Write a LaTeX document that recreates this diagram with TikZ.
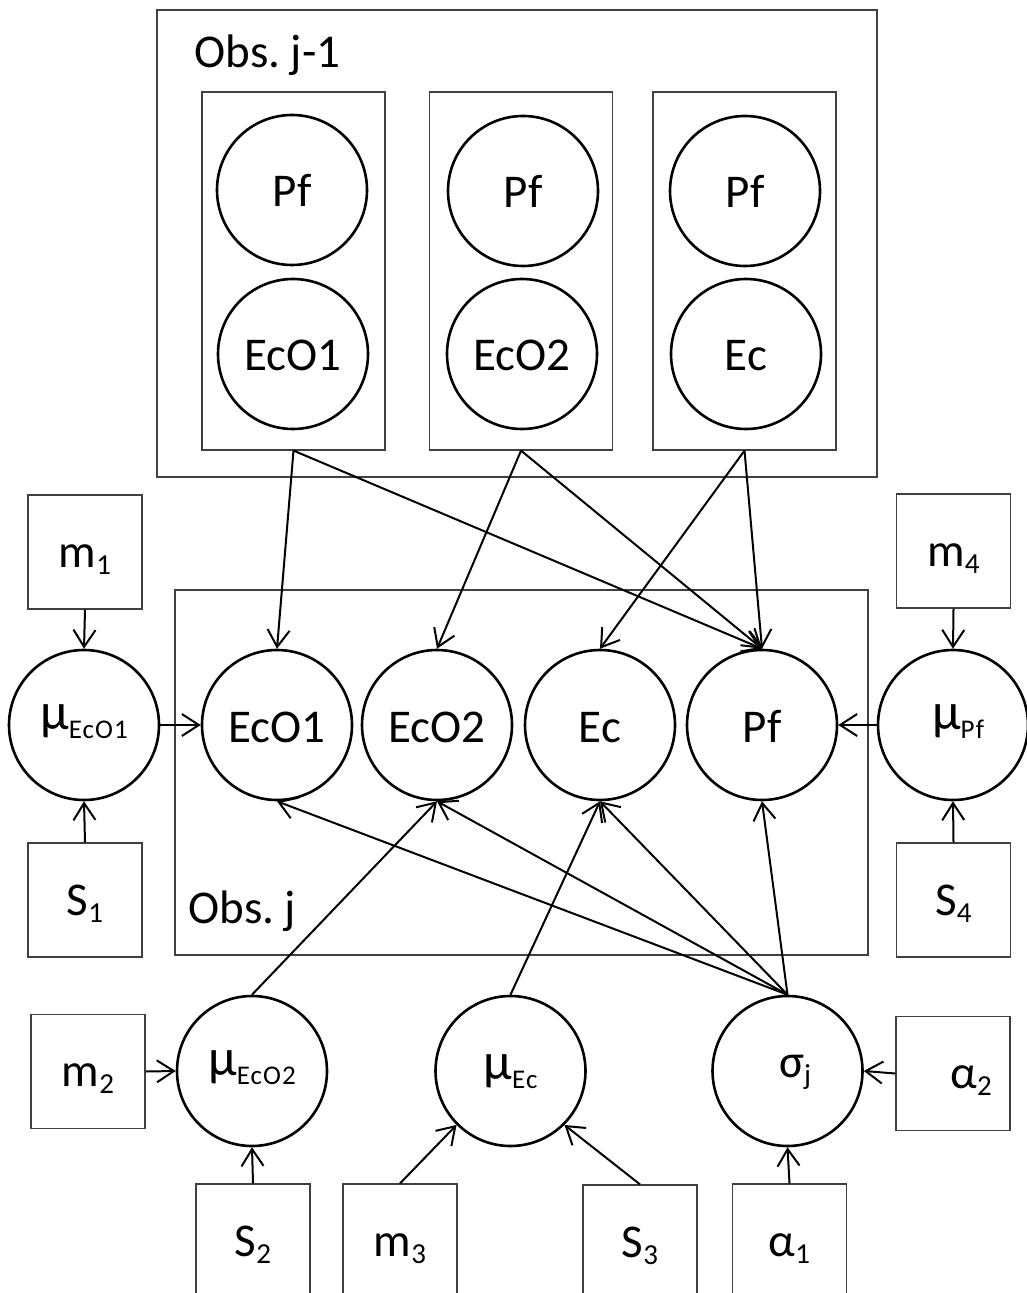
\documentclass[tikz,border=0pt]{standalone}
\usepackage{fontspec}
\setmainfont{Carlito}
\usetikzlibrary{arrows.meta}
\newcommand{\lsub}[1]{\raisebox{-3.5pt}{\fontsize{14.5}{15}\selectfont #1}}
\newcommand{\msub}[1]{\raisebox{-4.5pt}{\fontsize{13.5}{14}\selectfont\addfontfeature{LetterSpace=4}#1}}
\newcommand{\mug}{{\fontsize{26}{28}\selectfont μ}}
\tikzset{
  var/.style={circle, draw, line width=1.3pt, minimum size=75pt, inner sep=0pt, text height=17pt, text depth=0pt},
  hyp/.style={var, text height=9pt, text depth=5pt},
  cst/.style={rectangle, draw=black!75, line width=0.6pt, minimum width=57pt, minimum height=57pt, inner sep=0pt, text height=16pt, text depth=1pt},
  plate/.style={rectangle, draw=black!75, line width=0.6pt, inner sep=0pt},
  arr/.style={-{Straight Barb[length=8.5pt,width=11pt]}, line width=1pt},
  lbl/.style={anchor=base west, inner sep=0pt},
}
\begin{document}
\begin{tikzpicture}[x=0.5pt,y=-0.5pt, font=\fontsize{23.5}{28}\selectfont]
\useasboundingbox (0,0) rectangle (1026,1293);
% previous observation plate
\node[plate, minimum width=360pt, minimum height=233.5pt] (prev) at (517,243.5) {};
\node[lbl] (prevlbl) at (194,68) {Obs.\ j-1};
\node[plate, minimum width=91.5pt, minimum height=179pt] (g1) at (293.5,271) {};
\node[plate, minimum width=91.5pt, minimum height=179pt] (g2) at (521,271) {};
\node[plate, minimum width=91.5pt, minimum height=179pt] (g3) at (744.5,271) {};
\node[var] (pf1) at (292,190) {Pf};
\node[var] (eco1p) at (293,354) {EcO1};
\node[var] (pf2) at (523,191) {Pf};
\node[var] (eco2p) at (522,354) {EcO2};
\node[var] (pf3) at (745,191) {Pf};
\node[var] (ecp) at (746,354) {Ec};
% current observation plate
\node[plate, minimum width=346.5pt, minimum height=182.5pt] (cur) at (521.5,772.5) {};
\node[lbl] (curlbl) at (188,923) {Obs.\ j};
\node[var] (eco1) at (277,725) {EcO1};
\node[var] (eco2) at (437,725) {EcO2};
\node[var] (ec) at (600,725) {Ec};
\node[var] (pf) at (762,725) {Pf};
% hyper nodes
\node[hyp] (mueco1) at (84,725) {\mug\msub{EcO1}};
\node[hyp] (mupf) at (953,725) {\hspace*{5pt}\mug\msub{Pf}};
\node[cst] (m1) at (85,552) {m\lsub{1}};
\node[cst] (s1) at (85,900) {S\lsub{1}};
\node[cst] (m4) at (953.5,551) {m\lsub{4}};
\node[cst] (s4) at (953.5,900) {S\lsub{4}};
\node[hyp] (mueco2) at (252,1071) {\mug\msub{EcO2}};
\node[hyp, text height=13pt, text depth=5pt] (muec) at (510.5,1071) {\mug\msub{Ec}};
\node[hyp, text height=10pt, text depth=4pt] (sigma) at (787.5,1071) {\hspace*{7.5pt}σ\lsub{j}};
\node[cst] (m2) at (88,1071.5) {m\lsub{2}};
\node[cst] (alpha2) at (953,1073.5) {\hspace*{18pt}α\lsub{2}};
\node[cst] (s2) at (253,1241) {S\lsub{2}};
\node[cst] (m3) at (400,1241) {m\lsub{3}};
\node[cst] (s3) at (640,1242) {S\lsub{3}};
\node[cst] (alpha1) at (789.5,1241) {α\lsub{1}};
% edges from previous observation
\draw[arr] (g1.south) -- (eco1.north);
\draw[arr] (g1.south) -- (pf.north);
\draw[arr] (g2.south) -- (eco2.north);
\draw[arr] (g2.south) -- (pf.north);
\draw[arr] (g3.south) -- (ec.north);
\draw[arr] (g3.south) -- (pf.north);
% side hyperparameters
\draw[arr] (m1.south) -- (mueco1.north);
\draw[arr] (s1.north) -- (mueco1.south);
\draw[arr] (mueco1.east) -- (eco1.west);
\draw[arr] (m4.south) -- (mupf.north);
\draw[arr] (s4.north) -- (mupf.south);
\draw[arr] (mupf.west) -- (pf.east);
% bottom row
\draw[arr] (mueco2.north) -- (eco2.south);
\draw[arr] (muec.north) -- (ec.south);
\draw[arr] (sigma.north) -- (eco1.south);
\draw[arr] (sigma.north) -- (eco2.south);
\draw[arr] (sigma.north) -- (ec.south);
\draw[arr] (sigma.north) -- (pf.south);
\draw[arr] (m2.east) -- (mueco2.west);
\draw[arr] (s2.north) -- (mueco2.south);
\draw[arr] (m3.north) -- (muec.south west);
\draw[arr] (s3.north) -- (muec.south east);
\draw[arr] (alpha2.west) -- (sigma.east);
\draw[arr] (alpha1.north) -- (sigma.south);
\end{tikzpicture}
\end{document}
